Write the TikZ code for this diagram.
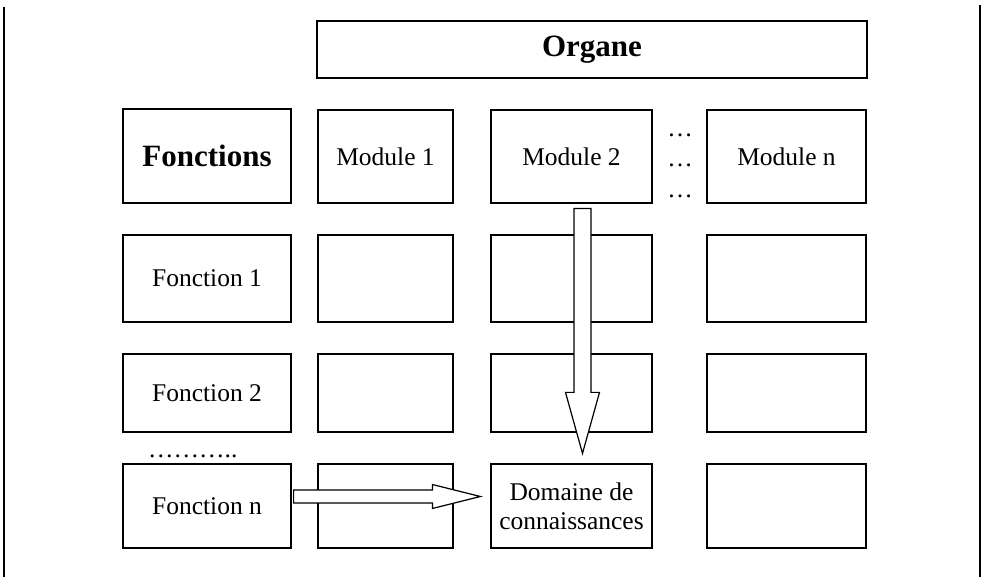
\documentclass[tikz,border=0pt]{standalone}
\usepackage{fontspec}
\setmainfont{Liberation Serif}
\usetikzlibrary{calc}
\begin{document}
\begin{tikzpicture}[x=1pt,y=-1pt,
  cell/.style={draw, line width=1.2pt, inner sep=0pt, align=center,
    font=\fontsize{25.5}{29}\selectfont},
  headcell/.style={cell, font=\fontsize{31}{35}\selectfont\bfseries},
  fatarrow/.style={draw, fill=white, line width=1.2pt, line join=miter},
  frame/.style={line width=1.2pt},
  dots/.style={inner sep=0pt, font=\fontsize{25.5}{29}\selectfont}]
\useasboundingbox (0,0) rectangle (989,577);

% page rules on both sides
\coordinate (lt) at (4,7);   \coordinate (lb) at (4,577);
\coordinate (rt) at (980,5); \coordinate (rb) at (980,577);
\draw[frame] (lt) -- (lb);
\draw[frame] (rt) -- (rb);

% top banner
\node[headcell, minimum width=550pt, minimum height=57pt] (org) at (592,49.5) {Organe};

% header row
\node[headcell, minimum width=168pt, minimum height=94pt] (fh) at (207,156) {Fonctions};
\node[cell, minimum width=135pt, minimum height=93pt] (m1) at (385.5,156.5) {Module 1};
\node[cell, minimum width=161pt, minimum height=93pt] (m2) at (571.5,156.5) {Module 2};
\node[cell, minimum width=159pt, minimum height=93pt] (mn) at (786.5,156.5) {Module n};

% ellipses between Module 2 and Module n
\node[dots] (d1) at (680,135) {…};
\node[dots] (d2) at (680,165) {…};
\node[dots] (d3) at (680,196) {…};

% row: Fonction 1
\node[cell, minimum width=168pt, minimum height=87pt] (f1) at (207,278.5) {Fonction 1};
\node[cell, minimum width=135pt, minimum height=87pt] (c12) at (385.5,278.5) {};
\node[cell, minimum width=161pt, minimum height=87pt] (c13) at (571.5,278.5) {};
\node[cell, minimum width=159pt, minimum height=87pt] (c14) at (786.5,278.5) {};

% row: Fonction 2
\node[cell, minimum width=168pt, minimum height=78pt] (f2) at (207,393) {Fonction 2};
\node[cell, minimum width=135pt, minimum height=78pt] (c22) at (385.5,393) {};
\node[cell, minimum width=161pt, minimum height=78pt] (c23) at (571.5,393) {};
\node[cell, minimum width=159pt, minimum height=78pt] (c24) at (786.5,393) {};

% dotted gap
\node[dots, anchor=base west] (fd) at (148,458) {………..};

% row: Fonction n
\node[cell, minimum width=168pt, minimum height=84pt] (fn) at (207,506) {Fonction n};
\node[cell, minimum width=135pt, minimum height=84pt] (cn2) at (385.5,506) {};
\node[cell, minimum width=161pt, minimum height=84pt] (dom) at (571.5,506) {Domaine de\\connaissances};
\node[cell, minimum width=159pt, minimum height=84pt] (cn4) at (786.5,506) {};

% hollow arrow from Module 2 down to the knowledge domain
\coordinate (vtop) at ($(m2.south)+(11,5)$);
\coordinate (vtip) at ($(dom.north)+(11,-10)$);
\draw[fatarrow] ($(vtop)+(-8.5,0)$) -- ($(vtop)+(8.5,0)$)
  -- ($(vtip)+(8.5,-61)$) -- ($(vtip)+(17,-61)$) -- (vtip)
  -- ($(vtip)+(-17,-61)$) -- ($(vtip)+(-8.5,-61)$) -- cycle;

% hollow arrow from Fonction n across to the knowledge domain
\coordinate (hs) at ($(fn.east)+(2,-9.5)$);
\coordinate (htip) at ($(dom.west)+(-10,-9.5)$);
\draw[fatarrow] ($(hs)+(0,-6.5)$) -- ($(htip)+(-48,-6.5)$)
  -- ($(htip)+(-48,-12)$) -- (htip) -- ($(htip)+(-48,12)$)
  -- ($(htip)+(-48,6.5)$) -- ($(hs)+(0,6.5)$) -- cycle;
\end{tikzpicture}
\end{document}
